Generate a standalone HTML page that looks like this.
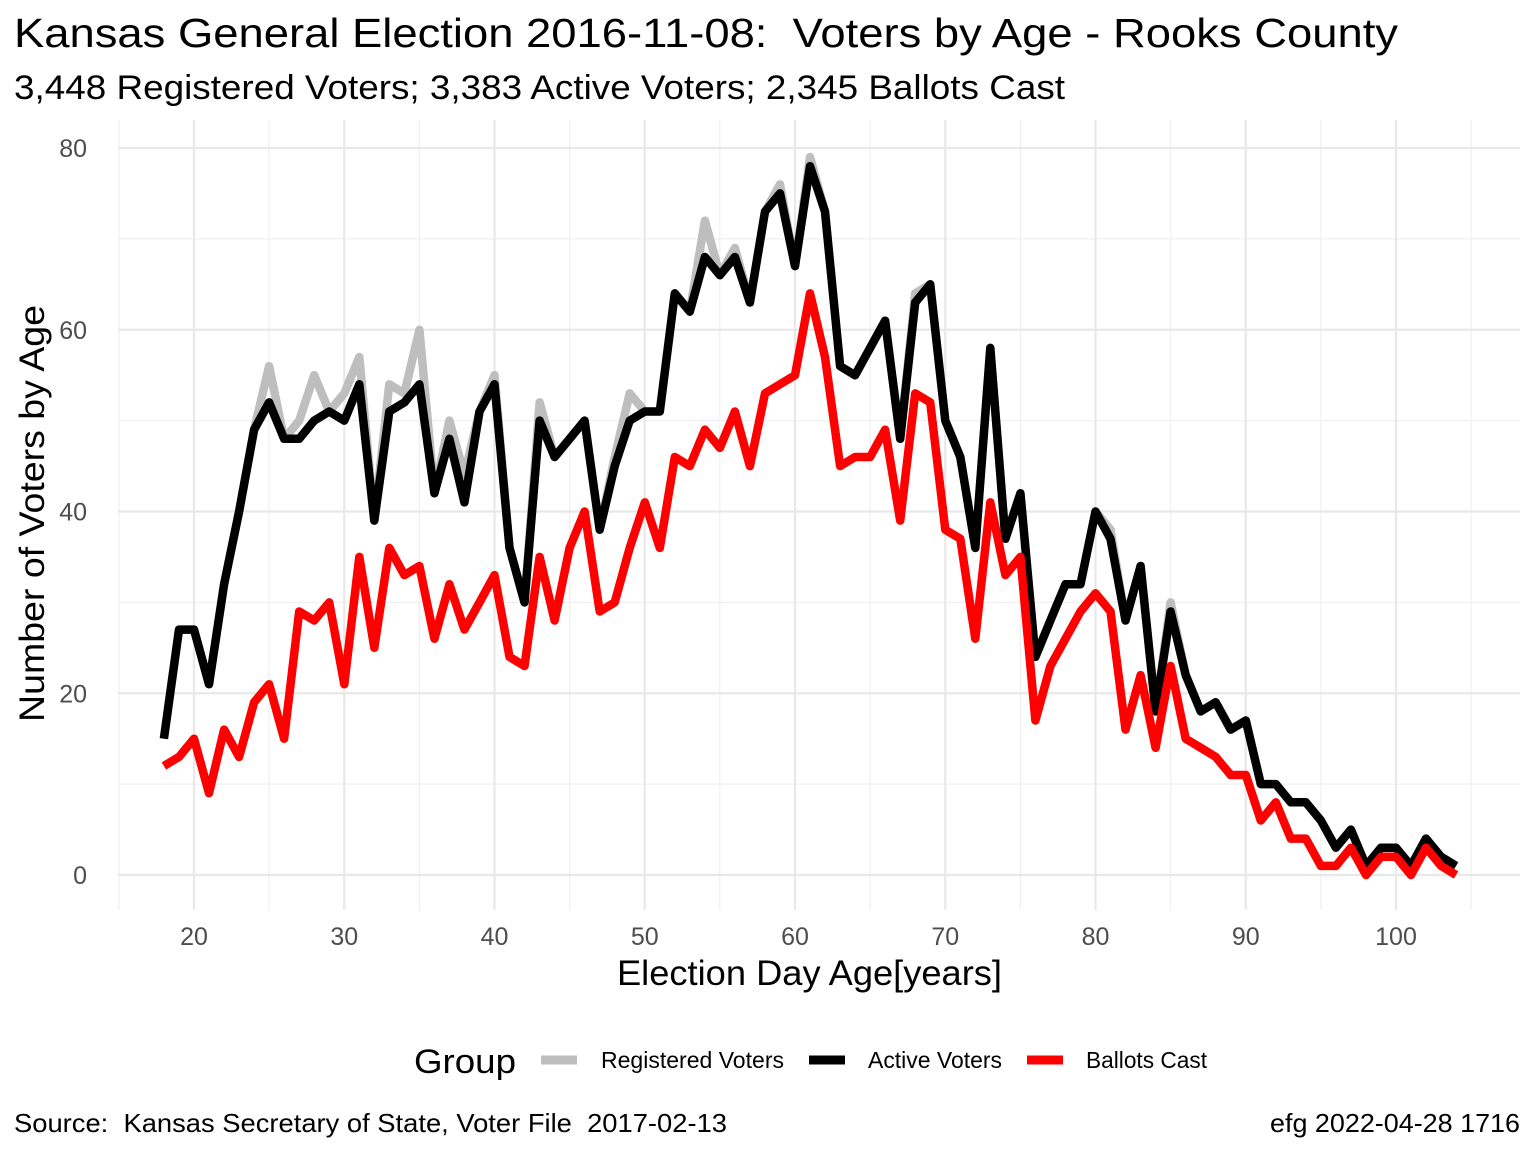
<!DOCTYPE html>
<html><head><meta charset="utf-8"><style>
body{margin:0;background:#fff;}
svg{display:block;font-family:"Liberation Sans",Arial,sans-serif;}
text{white-space:pre;}
</style></head><body>
<svg id="chart" width="1536" height="1152" viewBox="0 0 1536 1152">
<text x="14" y="47" font-size="41" fill="#000" textLength="1384" lengthAdjust="spacingAndGlyphs">Kansas General Election 2016-11-08:  Voters by Age - Rooks County</text>
<text x="14" y="99" font-size="34" fill="#000" textLength="1051" lengthAdjust="spacingAndGlyphs">3,448 Registered Voters; 3,383 Active Voters; 2,345 Ballots Cast</text>
<g id="grid"></g>
<g id="series"></g>
<g id="axes"></g>
<text x="617" y="985" font-size="35" fill="#000" textLength="385" lengthAdjust="spacingAndGlyphs">Election Day Age[years]</text>
<text transform="translate(44,722) rotate(-90)" font-size="35" fill="#000" textLength="417" lengthAdjust="spacingAndGlyphs">Number of Voters by Age</text>
<g>
<text x="414" y="1073" font-size="34" fill="#000" textLength="102" lengthAdjust="spacingAndGlyphs">Group</text>
<g><line x1="541" y1="1060" x2="577" y2="1060" stroke="#bebebe" stroke-width="9"/><text x="601" y="1068" font-size="23" fill="#000" textLength="183" lengthAdjust="spacingAndGlyphs">Registered Voters</text></g>
<g><line x1="809" y1="1060" x2="845" y2="1060" stroke="#000" stroke-width="9"/><text x="868" y="1068" font-size="23" fill="#000" textLength="134" lengthAdjust="spacingAndGlyphs">Active Voters</text></g>
<g><line x1="1027" y1="1060" x2="1063" y2="1060" stroke="#ff0000" stroke-width="9"/><text x="1086" y="1068" font-size="23" fill="#000" textLength="121" lengthAdjust="spacingAndGlyphs">Ballots Cast</text></g>
</g>
<text x="14" y="1132" font-size="26" fill="#000" textLength="713" lengthAdjust="spacingAndGlyphs">Source:  Kansas Secretary of State, Voter File  2017-02-13</text>
<text x="1270" y="1132" font-size="26" fill="#000" textLength="250" lengthAdjust="spacingAndGlyphs">efg 2022-04-28 1716</text>
</svg>
<script>
const ages = [];
for (let a = 18; a <= 104; a++) ages.push(a);
const activeVoters = [15,27,27,21,32,40,49,52,48,48,50,51,50,54,39,51,52,54,42,48,41,51,54,36,30,50,46,48,50,38,45,50,51,51,64,62,68,66,68,63,73,75,67,78,73,56,55,58,61,48,63,65,50,46,36,58,37,42,24,28,32,32,40,37,28,34,18,29,22,18,19,16,17,10,10,8,8,6,3,5,1,3,3,1,4,2,1];
const registeredVoters = [15,27,27,21,32,40,49,56,48,50,55,51,53,57,39,54,53,60,42,50,44,51,55,36,30,52,46,48,50,38,46,53,51,51,64,62,72,66,69,63,73,76,67,79,73,56,55,58,61,48,64,65,50,46,36,58,37,42,24,28,32,32,40,38,28,34,18,30,22,18,19,16,17,10,10,8,8,6,3,5,1,3,3,1,4,2,1];
const ballotsCast = [12,13,15,9,16,13,19,21,15,29,28,30,21,35,25,36,33,34,26,32,27,30,33,24,23,35,28,36,40,29,30,36,41,36,46,45,49,47,51,45,53,54,55,64,57,45,46,46,49,39,53,52,38,37,26,41,33,35,17,23,26,29,31,29,16,22,14,23,15,14,13,11,11,6,8,4,4,1,1,3,0,2,2,0,3,1,0];
const xTicks = [20,30,40,50,60,70,80,90,100];
const yTicks = [0,20,40,60,80];

const NS = "http://www.w3.org/2000/svg";
const xs = v => 194 + (v - 20) * (1396 - 194) / 80;
const ys = v => 875 - v * (875 - 148) / 80;
const PL = 118, PR = 1520, PT = 120, PB = 910;
const grid = document.getElementById('grid');
const axes = document.getElementById('axes');
const series = document.getElementById('series');
function mk(tag, attrs, parent) {
  const e = document.createElementNS(NS, tag);
  for (const k in attrs) e.setAttribute(k, attrs[k]);
  parent.appendChild(e);
  return e;
}
for (let v = 10; v <= 70; v += 20) {
  const l = mk('line', {x1: PL, x2: PR, y1: ys(v), y2: ys(v), stroke: '#f0f0f0', 'stroke-width': 1.3}, grid);
  
  
}
for (let v = 15; v <= 105; v += 10) {
  const l = mk('line', {x1: xs(v), x2: xs(v), y1: PT, y2: PB, stroke: '#f0f0f0', 'stroke-width': 1.3}, grid);
  
  
}
yTicks.forEach(v => {
  const l = mk('line', {x1: PL, x2: PR, y1: ys(v), y2: ys(v), stroke: '#e8e8e8', 'stroke-width': 2.2}, grid);
  
  
  const t = mk('text', {x: 87, y: ys(v) + 9, 'font-size': 25, fill: '#4d4d4d', 'text-anchor': 'end'}, axes);
  t.textContent = v;
  
  
});
xTicks.forEach(v => {
  const l = mk('line', {x1: xs(v), x2: xs(v), y1: PT, y2: PB, stroke: '#e8e8e8', 'stroke-width': 2.2}, grid);
  
  
  const t = mk('text', {x: xs(v), y: 945, 'font-size': 25, fill: '#4d4d4d', 'text-anchor': 'middle'}, axes);
  t.textContent = v;
  
  
});
function drawLine(vals, color, name) {
  const pts = vals.map((v, i) => xs(ages[i]).toFixed(1) + ',' + ys(v).toFixed(1)).join(' ');
  const p = mk('polyline', {points: pts, fill: 'none', stroke: color, 'stroke-width': 8.5, 'stroke-linejoin': 'round'}, series);
  
  
}
drawLine(registeredVoters, '#bebebe', 'registered-voters-line');
drawLine(activeVoters, '#000000', 'active-voters-line');
drawLine(ballotsCast, '#ff0000', 'ballots-cast-line');
</script>
</body></html>
